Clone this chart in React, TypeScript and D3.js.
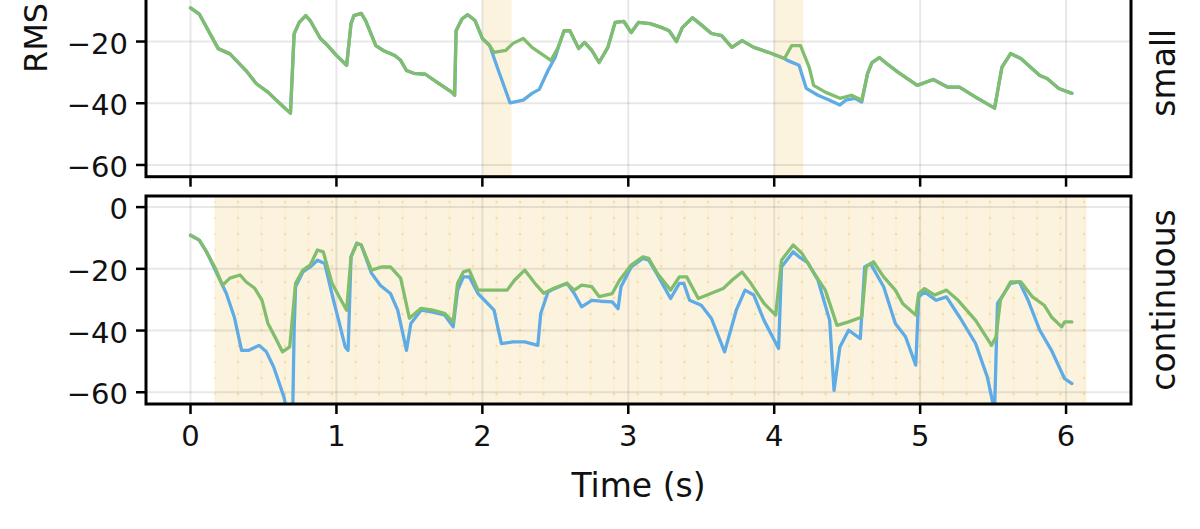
import React from "react";
import * as d3 from "d3";

// ---- data ----
const xTicks = [0, 1, 2, 3, 4, 5, 6];
const yTicks = [0, -20, -40, -60];
const xDomain: [number, number] = [-0.305, 6.445];
const yDomain: [number, number] = [-63.8, 3.6];
const rowLabels = ["small", "continuous"];
const smallSpans: [number, number][] = [[2.0, 2.2], [4.0, 4.2]];
const contSpans: [number, number][] = [[0.165, 6.14]];

const smallGreen: [number, number][] = [
  [0, -9.1], [0.06, -11.1], [0.17, -20.6], [0.19, -22.3], [0.27, -24], [0.38, -29.4], [0.45, -33.6],
  [0.53, -36.4], [0.64, -41.3], [0.685, -43.2], [0.71, -17.5], [0.745, -13.8], [0.79, -11.6], [0.82, -13.2],
  [0.89, -19], [0.94, -21.3], [1.0, -24.5], [1.07, -27.7], [1.1, -14.2], [1.12, -11.6], [1.17, -10.9],
  [1.2, -13.2], [1.27, -21.3], [1.32, -22.9], [1.4, -24.5], [1.44, -26.1], [1.48, -29.4], [1.53, -30.3],
  [1.61, -30.6], [1.69, -33.2], [1.79, -36.4], [1.81, -37.4], [1.82, -16.5], [1.86, -12.7], [1.9, -11.3],
  [1.95, -13.2], [2.0, -19.0], [2.05, -21.3], [2.08, -23.5], [2.16, -22.9], [2.21, -20.6], [2.28, -19],
  [2.34, -21.9], [2.42, -24.5], [2.47, -26.1], [2.52, -21.9], [2.56, -16.5], [2.6, -16.5], [2.66, -22.3],
  [2.7, -20.3], [2.75, -22.9], [2.8, -26.8], [2.86, -21.9], [2.91, -13.8], [2.97, -13.5], [3.02, -17.1],
  [3.07, -13.8], [3.15, -14.2], [3.23, -15.5], [3.28, -16.5], [3.33, -20], [3.37, -15.5], [3.44, -12.3],
  [3.49, -14.2], [3.57, -17.4], [3.64, -18.1], [3.71, -21.9], [3.78, -19.7], [3.86, -21.9], [3.96, -23.5],
  [4.07, -25.5], [4.12, -21.3], [4.18, -21.3], [4.24, -28.4], [4.27, -34.2], [4.35, -36.4], [4.45, -38.4],
  [4.53, -37.4], [4.6, -39], [4.64, -30.3], [4.67, -26.8], [4.72, -25.2], [4.77, -27.1], [4.85, -30],
  [4.98, -34.2], [5.09, -32.3], [5.19, -34.8], [5.27, -34.8], [5.38, -38], [5.51, -41.6], [5.56, -28.4],
  [5.62, -23.9], [5.69, -25.5], [5.82, -31], [5.87, -32], [5.95, -35.2], [6.04, -36.8],
];

const smallBlue: [number, number][] = [
  [0, -9.1], [0.06, -11.1], [0.17, -20.6], [0.19, -22.3], [0.27, -24], [0.38, -29.4], [0.45, -33.6],
  [0.53, -36.4], [0.64, -41.3], [0.685, -43.2], [0.71, -17.5], [0.745, -13.8], [0.79, -11.6], [0.82, -13.2],
  [0.89, -19], [0.94, -21.3], [1.0, -24.5], [1.07, -27.7], [1.1, -14.2], [1.12, -11.6], [1.17, -10.9],
  [1.2, -13.2], [1.27, -21.3], [1.32, -22.9], [1.4, -24.5], [1.44, -26.1], [1.48, -29.4], [1.53, -30.3],
  [1.61, -30.6], [1.69, -33.2], [1.79, -36.4], [1.81, -37.4], [1.82, -16.5], [1.86, -12.7], [1.9, -11.3],
  [1.95, -13.2], [2.0, -19.0], [2.05, -21.3], [2.11, -29.4], [2.19, -39.9], [2.28, -39], [2.34, -36.8],
  [2.39, -35.5], [2.45, -29.4], [2.5, -25], [2.52, -21.9], [2.56, -16.5], [2.6, -16.5], [2.66, -22.3],
  [2.7, -20.3], [2.75, -22.9], [2.8, -26.8], [2.86, -21.9], [2.91, -13.8], [2.97, -13.5], [3.02, -17.1],
  [3.07, -13.8], [3.15, -14.2], [3.23, -15.5], [3.28, -16.5], [3.33, -20], [3.37, -15.5], [3.44, -12.3],
  [3.49, -14.2], [3.57, -17.4], [3.64, -18.1], [3.71, -21.9], [3.78, -19.7], [3.86, -21.9], [3.96, -23.5],
  [4.07, -25.5], [4.09, -26.1], [4.17, -27.7], [4.22, -35.2], [4.3, -37.4], [4.38, -39], [4.45, -40.6],
  [4.49, -39], [4.55, -38.4], [4.6, -39.6], [4.64, -30.3], [4.67, -26.8], [4.72, -25.2], [4.77, -27.1],
  [4.85, -30], [4.98, -34.2], [5.09, -32.3], [5.19, -34.8], [5.27, -34.8], [5.38, -38], [5.51, -41.6],
  [5.56, -28.4], [5.62, -23.9], [5.69, -25.5], [5.82, -31], [5.87, -32], [5.95, -35.2], [6.04, -36.8],
];

const contGreen: [number, number][] = [
  [0, -9.1], [0.06, -10.7], [0.11, -14.5], [0.17, -19.8], [0.22, -25.3], [0.27, -23], [0.34, -22],
  [0.38, -24.2], [0.44, -26.3], [0.49, -30.2], [0.53, -37.6], [0.59, -43.1], [0.63, -46.9], [0.68, -45.3],
  [0.72, -24.7], [0.77, -20.4], [0.82, -18.8], [0.87, -13.9], [0.91, -14.5], [0.97, -24.7], [1.02, -29.1],
  [1.07, -33.4], [1.1, -16.1], [1.14, -11.7], [1.17, -12.3], [1.24, -20.4], [1.31, -19.4], [1.37, -19.4],
  [1.44, -23], [1.5, -36], [1.58, -32.8], [1.66, -33.4], [1.74, -34.4], [1.8, -37.2], [1.83, -24.7],
  [1.87, -21], [1.91, -20.4], [1.97, -26.9], [2.08, -26.9], [2.17, -26.9], [2.22, -23.7], [2.29, -20.4],
  [2.36, -24.7], [2.42, -27.9], [2.49, -26.3], [2.58, -24.7], [2.63, -26.9], [2.68, -25.3], [2.75, -25.8],
  [2.8, -29], [2.89, -28], [2.94, -23.7], [3.02, -18.8], [3.1, -16.1], [3.14, -16.6], [3.2, -21.5],
  [3.29, -26.9], [3.35, -22.6], [3.4, -22.6], [3.48, -29.6], [3.54, -28.5], [3.65, -26.4], [3.71, -23.7],
  [3.78, -21], [3.84, -24.7], [3.93, -31.2], [4.01, -35], [4.05, -17.2], [4.13, -12.3], [4.19, -15],
  [4.26, -20.4], [4.35, -26.9], [4.43, -38.3], [4.51, -37.2], [4.6, -35.6], [4.63, -19.4], [4.68, -17.7],
  [4.75, -22.6], [4.83, -26.9], [4.88, -31.2], [4.97, -35], [4.99, -28], [5.03, -26.4], [5.1, -28.5],
  [5.18, -26.9], [5.26, -30.2], [5.38, -36.7], [5.49, -44.8], [5.52, -42], [5.55, -30.2], [5.62, -24.2],
  [5.69, -24.2], [5.77, -29.1], [5.85, -31.8], [5.9, -35.6], [5.97, -38.8], [5.99, -37.2], [6.04, -37.2],
];

const contBlue: [number, number][] = [
  [0, -9.1], [0.06, -10.7], [0.11, -14.5], [0.17, -20.5], [0.245, -27.9], [0.3, -35.6], [0.35, -46.4],
  [0.4, -46.4], [0.47, -44.8], [0.52, -46.9], [0.57, -51.8], [0.64, -61.5], [0.67, -68], [0.7, -68],
  [0.71, -40], [0.72, -25.8], [0.77, -21], [0.82, -19.4], [0.87, -17.2], [0.92, -18.3], [0.98, -30.2],
  [1.02, -37.6], [1.06, -45.3], [1.08, -46.4], [1.1, -16.1], [1.14, -11.7], [1.17, -12.3], [1.24, -21.4],
  [1.3, -25.3], [1.37, -28], [1.42, -33.4], [1.48, -46.4], [1.51, -37.7], [1.58, -33.4], [1.66, -34],
  [1.74, -34.9], [1.8, -38.8], [1.83, -27], [1.87, -22.6], [1.91, -22.6], [1.97, -28], [2.08, -33.4],
  [2.13, -44.2], [2.21, -43.7], [2.29, -43.7], [2.38, -44.8], [2.4, -34.5], [2.45, -27.5], [2.49, -26.5],
  [2.58, -24.7], [2.63, -28], [2.68, -32.3], [2.75, -30.2], [2.81, -30.5], [2.89, -30.7], [2.93, -32.9],
  [2.95, -25.8], [3.02, -19.4], [3.1, -16.6], [3.14, -17.2], [3.2, -22], [3.29, -29.6], [3.35, -24.7],
  [3.38, -24.7], [3.42, -30.2], [3.5, -31.8], [3.57, -36.1], [3.66, -46.9], [3.74, -33.4], [3.8, -26.9],
  [3.86, -28.5], [3.93, -36.7], [4.03, -45.8], [4.05, -19.4], [4.13, -14.5], [4.17, -16.1], [4.23, -18],
  [4.3, -23.7], [4.38, -36.7], [4.41, -59.4], [4.45, -45.3], [4.51, -39.9], [4.59, -42.6], [4.62, -19.4],
  [4.66, -18.3], [4.75, -25.8], [4.83, -37.7], [4.9, -42], [4.97, -51.2], [4.99, -29.1], [5.03, -27.5],
  [5.11, -30.2], [5.18, -29.1], [5.27, -35.6], [5.38, -44.2], [5.46, -55], [5.51, -66], [5.53, -31.2],
  [5.62, -24.7], [5.68, -24.2], [5.74, -30.2], [5.82, -39.9], [5.9, -46.4], [5.99, -55.6], [6.04, -57.2],
];

// ---- styles ----
const FONT = "'DejaVu Sans', Verdana, sans-serif";
const BLUE = "#5eabe5";
const GREEN = "#80bd6c";
const SPAN = "#fcf3de";
const W = 1200;
const H = 529;
const LEFT = 146;
const RIGHT = 1131;

type PanelProps = {
  id: string;
  top: number;
  height: number;
  spans: [number, number][];
  blue: [number, number][];
  green: [number, number][];
  label: string;
  showXLabels: boolean;
  dotted: boolean;
};

function Panel({ id, top, height, spans, blue, green, label, showXLabels, dotted }: PanelProps) {
  const x = d3.scaleLinear().domain(xDomain).range([LEFT, RIGHT]);
  const y = d3.scaleLinear().domain(yDomain).range([top + height, top]);
  const line = d3
    .line<[number, number]>()
    .x((d) => x(d[0]))
    .y((d) => y(d[1]));
  const bottom = top + height;
  return (
    <g>
      <defs>
        <clipPath id={`clip-${id}`}>
          <rect x={LEFT} y={top} width={RIGHT - LEFT} height={height} />
        </clipPath>
        {dotted && (
          <pattern
            id={`dots-${id}`}
            patternUnits="userSpaceOnUse"
            x={x(spans[0][0]) - 11.75}
            y={top - 2}
            width={23.5}
            height={16}
          >
            <line x1={11.75} x2={11.75} y1={0} y2={16} stroke="rgba(240,200,110,0.10)" strokeWidth={1.5} />
            <circle cx={11.75} cy={8} r={1.2} fill="rgba(240,195,90,0.45)" />
          </pattern>
        )}
      </defs>
      <rect x={LEFT} y={top} width={RIGHT - LEFT} height={height} fill="#fff" />
      <g clipPath={`url(#clip-${id})`}>
        {spans.map(([a, b], i) => (
          <g key={i}>
            <rect x={x(a)} y={top} width={x(b) - x(a)} height={height} fill={SPAN} />
            {dotted && (
              <rect x={x(a)} y={top} width={x(b) - x(a)} height={height} fill={`url(#dots-${id})`} />
            )}
          </g>
        ))}
        {xTicks.map((t) => (
          <line key={`gx${t}`} x1={x(t)} x2={x(t)} y1={top} y2={bottom} stroke="rgba(0,0,0,0.09)" strokeWidth={2} />
        ))}
        {yTicks.map((v) => (
          <line key={`gy${v}`} x1={LEFT} x2={RIGHT} y1={y(v)} y2={y(v)} stroke="rgba(0,0,0,0.09)" strokeWidth={2} />
        ))}
        <path d={line(blue) || ""} fill="none" stroke={BLUE} strokeWidth={3.3} strokeLinejoin="round" strokeLinecap="round" />
        <path d={line(green) || ""} fill="none" stroke={GREEN} strokeWidth={3.3} strokeLinejoin="round" strokeLinecap="round" />
      </g>
      <rect x={LEFT} y={top} width={RIGHT - LEFT} height={height} fill="none" stroke="#000" strokeWidth={3} />
      {xTicks.map((t) => (
        <g key={`tx${t}`}>
          <line x1={x(t)} x2={x(t)} y1={bottom} y2={bottom + 10} stroke="#000" strokeWidth={2.5} />
          {showXLabels && (
            <text x={x(t)} y={bottom + 42} textAnchor="middle" fontFamily={FONT} fontSize={29} fill="#111">
              {t}
            </text>
          )}
        </g>
      ))}
      {yTicks.map((v) => (
        <g key={`ty${v}`}>
          <line x1={LEFT - 10} x2={LEFT} y1={y(v)} y2={y(v)} stroke="#000" strokeWidth={2.5} />
          {y(v) > 10 && (
            <text x={128} y={y(v) + 12} textAnchor="end" fontFamily={FONT} fontSize={29} fill="#111">
              {v < 0 ? `\u2212${Math.abs(v)}` : `${v}`}
            </text>
          )}
        </g>
      ))}
      <text
        transform={`translate(1175, ${top + height / 2}) rotate(-90)`}
        textAnchor="middle"
        fontFamily={FONT}
        fontSize={33}
        fill="#111"
      >
        {label}
      </text>
    </g>
  );
}

export default function App() {
  return (
    <div style={{ position: "absolute", left: 0, top: 0 }}>
      <svg width={W} height={H} viewBox={`0 0 ${W} ${H}`} style={{ display: "block", background: "#fff" }}>
        <rect width={W} height={H} fill="#fff" />
        <Panel
          id="small"
          top={-31.3}
          height={208}
          spans={smallSpans}
          blue={smallBlue}
          green={smallGreen}
          label={rowLabels[0]}
          showXLabels={false}
          dotted={false}
        />
        <Panel
          id="cont"
          top={196}
          height={208}
          spans={contSpans}
          blue={contBlue}
          green={contGreen}
          label={rowLabels[1]}
          showXLabels={true}
          dotted={true}
        />
        <text
          transform={`translate(47, 73) rotate(-90)`}
          textAnchor="start"
          fontFamily={FONT}
          fontSize={32}
          fill="#111"
        >
          RMS
        </text>
        <text x={638.5} y={497} textAnchor="middle" fontFamily={FONT} fontSize={33} fill="#111">
          Time (s)
        </text>
      </svg>
    </div>
  );
}
